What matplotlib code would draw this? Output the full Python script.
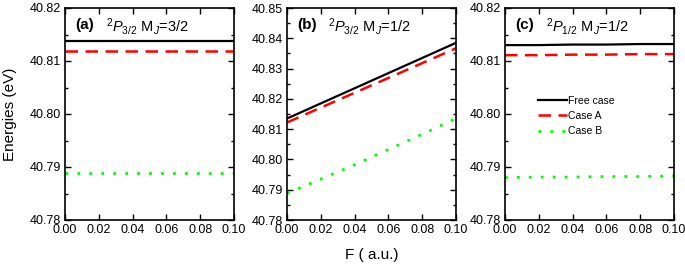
import matplotlib.pyplot as plt
from matplotlib.ticker import MultipleLocator, AutoMinorLocator
import numpy as np

plt.rcParams['font.family'] = ['Liberation Sans', 'DejaVu Sans']
plt.rcParams['mathtext.fontset'] = 'custom'
plt.rcParams['mathtext.it'] = 'Liberation Sans:italic'
plt.rcParams['mathtext.rm'] = 'Liberation Sans'

F = [0.00, 0.02, 0.04, 0.06, 0.08, 0.10]

# (a) 2P3/2 MJ=3/2
a_free = [40.8138, 40.8138, 40.8138, 40.8138, 40.8138, 40.8138]
a_caseA = [40.8119, 40.8119, 40.8119, 40.8119, 40.8119, 40.8119]
a_caseB = [40.7888, 40.7888, 40.7888, 40.7888, 40.7888, 40.7888]

# (b) 2P3/2 MJ=1/2
b_free = [40.8135, 40.8185, 40.8235, 40.8285, 40.8335, 40.8385]
b_caseA = [40.8122, 40.8171, 40.8220, 40.8269, 40.8318, 40.8367]
b_caseB = [40.7888, 40.7935, 40.7982, 40.8033, 40.8083, 40.8135]

# (c) 2P1/2 MJ=1/2
c_free = [40.8130, 40.8130, 40.8131, 40.8131, 40.8132, 40.8132]
c_caseA = [40.8111, 40.8111, 40.8112, 40.8112, 40.8113, 40.8113]
c_caseB = [40.7880, 40.7881, 40.7881, 40.7882, 40.7882, 40.7883]

panels = [
    ("(a)", r"$^{2}P_{3/2}$ M$_{J}$=3/2", a_free, a_caseA, a_caseB, (40.78, 40.82)),
    ("(b)", r"$^{2}P_{3/2}$ M$_{J}$=1/2", b_free, b_caseA, b_caseB, (40.78, 40.85)),
    ("(c)", r"$^{2}P_{1/2}$ M$_{J}$=1/2", c_free, c_caseA, c_caseB, (40.78, 40.82)),
]

fig = plt.figure(figsize=(6.85, 2.65), dpi=100)
W, H = 685, 265
lefts = [65, 287, 505]
width = 169
bottom, top = 220, 8

for (tag, name, yf, ya, yb, ylim), left in zip(panels, lefts):
    ax = fig.add_axes([left / W, 1 - bottom / H, width / W, (bottom - top) / H])
    ax.plot(F, yf, color="black", lw=1.6, label="Free case")
    ax.plot(F, ya, color="red", lw=1.8, ls=(0, (5, 3)), label="Case A")
    ax.plot(F, yb, color="#00ff00", lw=2.0, ls=(0, (1, 3.3)), label="Case B")
    ax.set_xlim(0, 0.1)
    ax.set_ylim(*ylim)
    ax.xaxis.set_major_locator(MultipleLocator(0.02))
    ax.yaxis.set_major_locator(MultipleLocator(0.01))
    ax.yaxis.set_minor_locator(AutoMinorLocator(2))
    ax.xaxis.set_major_formatter(plt.FormatStrFormatter("%.2f"))
    ax.yaxis.set_major_formatter(plt.FormatStrFormatter("%.2f"))
    ax.tick_params(which="both", direction="in", top=True, right=True,
                   labelsize=9, pad=3)
    ax.tick_params(which="major", length=4, width=1)
    ax.tick_params(which="minor", length=2.5, width=1)
    ax.tick_params(axis="x", which="minor", top=False, bottom=False)
    for s in ax.spines.values():
        s.set_linewidth(1.2)
    ax.text(0.06, 0.955, tag, transform=ax.transAxes, fontsize=11,
            fontweight="bold", va="top")
    ax.text(0.245, 0.96, name, transform=ax.transAxes, fontsize=10.5, va="top")
    if tag == "(c)":
        ax.legend(loc="center left", bbox_to_anchor=(0.14, 0.49), frameon=False,
                  fontsize=7.5, handlelength=2.8, handletextpad=0.1,
                  labelspacing=0.5)

fig.text(10 / W, 1 - 114 / H, "Energies (eV)", rotation=90, va="center",
         ha="center", fontsize=11)
fig.text(372 / W, 1 - 255 / H, "F ( a.u.)", ha="center", va="center",
         fontsize=11)

fig.savefig("out.png", dpi=100)
